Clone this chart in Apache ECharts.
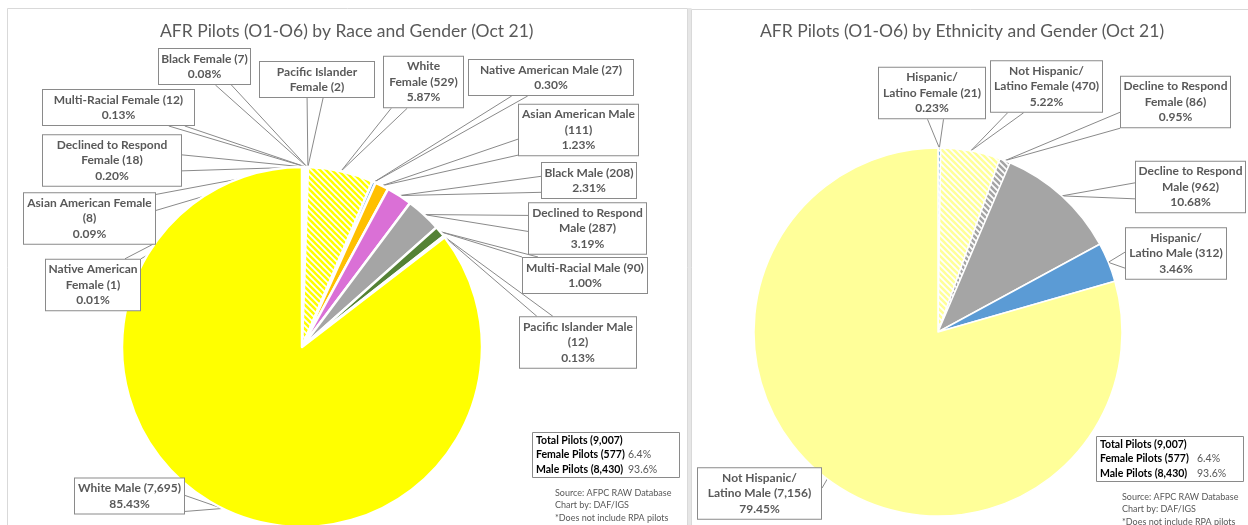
<!DOCTYPE html>
<html><head><meta charset="utf-8">
<script src="https://cdn.jsdelivr.net/npm/echarts@6/dist/echarts.min.js"></script>
<style>html,body{margin:0;padding:0;background:#fff}#c{width:1248px;height:525px}</style>
</head><body><div id="c"></div>
<script>
// ---------------- DATA ----------------
const raceCategories = ['Native American Female','Asian American Female','Declined to Respond Female','Multi-Racial Female','Black Female','Pacific Islander Female','White Female','Native American Male','Asian American Male','Black Male','Declined to Respond Male','Multi-Racial Male','Pacific Islander Male','White Male'];
const raceValues = [1, 8, 18, 12, 7, 2, 529, 27, 111, 208, 287, 90, 12, 7695];
const raceLabelTemplates = ['Native American\nFemale ({v})\n{p}','Asian American Female\n({v})\n{p}','Declined to Respond\nFemale ({v})\n{p}','Multi-Racial Female ({v})\n{p}','Black Female ({v})\n{p}','Pacific Islander\nFemale ({v})','White\nFemale ({v})\n{p}','Native American Male ({v})\n{p}','Asian American Male\n({v})\n{p}','Black Male ({v})\n{p}','Declined to Respond\nMale ({v})\n{p}','Multi-Racial Male ({v})\n{p}','Pacific Islander Male\n({v})\n{p}','White Male ({v})\n{p}'];

const ethCategories = ['Hispanic/Latino Female','Not Hispanic/Latino Female','Decline to Respond Female','Decline to Respond Male','Hispanic/Latino Male','Not Hispanic/Latino Male'];
const ethValues = [21, 470, 86, 962, 312, 7156];
const ethLabelTemplates = ['Hispanic/\nLatino Female ({v})\n{p}','Not Hispanic/\nLatino Female ({v})\n{p}','Decline to Respond\nFemale ({v})\n{p}','Decline to Respond\nMale ({v})\n{p}','Hispanic/\nLatino Male ({v})\n{p}','Not Hispanic/\nLatino Male ({v})\n{p}'];

const chartTitles = ['AFR Pilots (O1-O6) by Race and Gender (Oct 21)','AFR Pilots (O1-O6) by Ethnicity and Gender (Oct 21)'];
const summaryLabels = ['Total Pilots (9,007)','Female Pilots (577)','Male Pilots (8,430)'];
const summaryPercents = ['','6.4%','93.6%'];
const footnotes = ['Source: AFPC RAW Database','Chart by: DAF/IGS','*Does not include RPA pilots'];

// ---------------- STYLE / LAYOUT ----------------
const FONT = 'Lato, "Open Sans", sans-serif';
const TXT = '#595959';
const BOX = '#8a8a8a';

function hatch(color) {
  const s = 6, cv = document.createElement('canvas');
  cv.width = s; cv.height = s;
  const ctx = cv.getContext('2d');
  ctx.fillStyle = '#fff'; ctx.fillRect(0, 0, s, s);
  ctx.strokeStyle = color; ctx.lineWidth = 2.6;
  ctx.beginPath();
  for (let k = -1; k <= 1; k++) { ctx.moveTo(k * s - 1, -1); ctx.lineTo(k * s + s + 1, s + 1); }
  ctx.stroke();
  return { image: cv, repeat: 'repeat' };
}
const raceColors = [hatch('#5B9BD5'), hatch('#FFC000'), hatch('#A5A5A5'), hatch('#548235'), hatch('#DA70D6'), hatch('#264478'), hatch('#FFFF00'),
  '#5B9BD5', '#FFC000', '#DA70D6', '#A5A5A5', '#548235', '#264478', '#FFFF00'];
const ethColors = [hatch('#5B9BD5'), hatch('#FFFF99'), hatch('#A5A5A5'), '#A5A5A5', '#5B9BD5', '#FFFF99'];

// label box centers and outer widths
const raceLabelPos = [[93,285],[89.5,218.5],[112,160.5],[118.5,107.5],[204.5,66.5],[317,79.5],[423.5,82],[551,77.5],[578.5,130],[589,180.5],[587.5,228.5],[585,275.5],[578,342.5],[129.5,496]];
const raceBoxW = [96,133,140,153,93,116,81,166,121,96,119,126,118,111];
const ethLabelPos = [[932,93],[1046.5,86.5],[1175.5,102],[1190.5,187],[1176,253.5],[759.5,493.5]];
const ethBoxW = [108,113,111,111,102,125];

function fmtLabel(templates, values) {
  const total = values.reduce((a, b) => a + b, 0);
  return function (p) {
    const v = values[p.dataIndex];
    return templates[p.dataIndex]
      .replace('{v}', v.toLocaleString('en-US'))
      .replace('{p}', (v / total * 100).toFixed(2) + '%');
  };
}

function makeLayout(pos) {
  return function (params) {
    const i = params.dataIndex;
    const bx = pos[i][0], by = pos[i][1];
    const w = params.labelRect.width, h = params.labelRect.height;
    const pts = params.labelLinePoints;
    const tip = pts && pts.length ? pts[0] : [bx, by];
    const x0 = bx - w / 2, x1 = bx + w / 2, y0 = by - h / 2, y1 = by + h / 2;
    const dx = tip[0] - bx, dy = tip[1] - by;
    const tx = dx !== 0 ? (w / 2) / Math.abs(dx) : Infinity;
    const ty = dy !== 0 ? (h / 2) / Math.abs(dy) : Infinity;
    const hw = 8;
    let A, B;
    if (tx < ty) {
      const ex = dx > 0 ? x1 : x0;
      let py = by + dy * tx;
      py = Math.min(Math.max(py, y0 + hw), y1 - hw);
      A = [ex, py - hw]; B = [ex, py + hw];
    } else {
      const ey = dy > 0 ? y1 : y0;
      let px = bx + dx * ty;
      px = Math.min(Math.max(px, x0 + hw), x1 - hw);
      A = [px - hw, ey]; B = [px + hw, ey];
    }
    return { x: bx, y: by, align: 'center', verticalAlign: 'middle', labelLinePoints: [A, tip, B] };
  };
}

function pieSeries(cats, vals, colors, templates, pos, widths, center, radius, bw) {
  return {
    type: 'pie',
    center: center,
    radius: radius,
    startAngle: 90,
    clockwise: true,
    avoidLabelOverlap: false,
    animation: false,
    silent: true,
    itemStyle: { borderColor: '#fff', borderWidth: bw },
    label: {
      show: true, position: 'outside',
      formatter: fmtLabel(templates, vals),
      color: TXT, fontFamily: FONT, fontSize: 12, fontWeight: 'bold', lineHeight: 15.5,
      backgroundColor: '#fff', borderColor: BOX, borderWidth: 1, padding: [2, 3], align: 'center',
      overflow: 'none'
    },
    labelLine: { show: true, length: 5, length2: 5, smooth: false, lineStyle: { color: BOX, width: 1 } },
    labelLayout: makeLayout(pos),
    data: cats.map((c, i) => ({ name: c, value: vals[i], itemStyle: { color: colors[i] }, label: { width: widths[i] - 8, overflow: 'none' } }))
  };
}

const graphics = [
  { type: 'rect', z: -5, shape: { x: 7.5, y: 8.5, width: 680, height: 530 }, style: { fill: '#fff', stroke: '#d9d9d9', lineWidth: 1 } },
  { type: 'rect', z: -5, shape: { x: 688, y: 8, width: 3.5, height: 520 }, style: { fill: '#e6e6e6' } },
  { type: 'rect', z: -5, shape: { x: 691.5, y: 9.5, width: 570, height: 530 }, style: { fill: '#fff', stroke: '#d9d9d9', lineWidth: 1 } },
  { type: 'text', x: 160, y: 31, style: { text: chartTitles[0], fill: TXT, font: '17.5px ' + FONT, align: 'left', verticalAlign: 'middle' } },
  { type: 'text', x: 760, y: 31, style: { text: chartTitles[1], fill: TXT, font: '17.5px ' + FONT, align: 'left', verticalAlign: 'middle' } }
];
function summary(bx, by, px, fx, fy) {
  graphics.push({ type: 'rect', z: 10, shape: { x: bx + 0.5, y: by + 0.5, width: 147, height: 45 }, style: { fill: '#fff', stroke: BOX, lineWidth: 1 } });
  summaryLabels.forEach((t, i) => {
    graphics.push({ type: 'text', z: 11, x: bx + 4, y: by + 8.5 + i * 14.5, style: { text: t, fill: '#000', font: 'bold 10.5px ' + FONT, align: 'left', verticalAlign: 'middle' } });
    if (summaryPercents[i]) graphics.push({ type: 'text', z: 11, x: px, y: by + 8.5 + i * 14.5, style: { text: summaryPercents[i], fill: TXT, font: '10.5px ' + FONT, align: 'left', verticalAlign: 'middle' } });
  });
  footnotes.forEach((t, i) => {
    graphics.push({ type: 'text', z: 11, x: fx, y: fy + i * 12.5, style: { text: t, fill: TXT, font: '9px ' + FONT, align: 'left', verticalAlign: 'middle' } });
  });
}
summary(532, 432, 628, 555, 493);
summary(1096, 436, 1197, 1122, 497);

const chart = echarts.init(document.getElementById('c'), null, { renderer: 'canvas' });
chart.setOption({
  animation: false,
  backgroundColor: '#fff',
  graphic: { elements: graphics },
  series: [
    pieSeries(raceCategories, raceValues, raceColors, raceLabelTemplates, raceLabelPos, raceBoxW, [302, 347], 180, 2.5),
    pieSeries(ethCategories, ethValues, ethColors, ethLabelTemplates, ethLabelPos, ethBoxW, [938, 332], 184, 1.5)
  ]
});
</script></body></html>
